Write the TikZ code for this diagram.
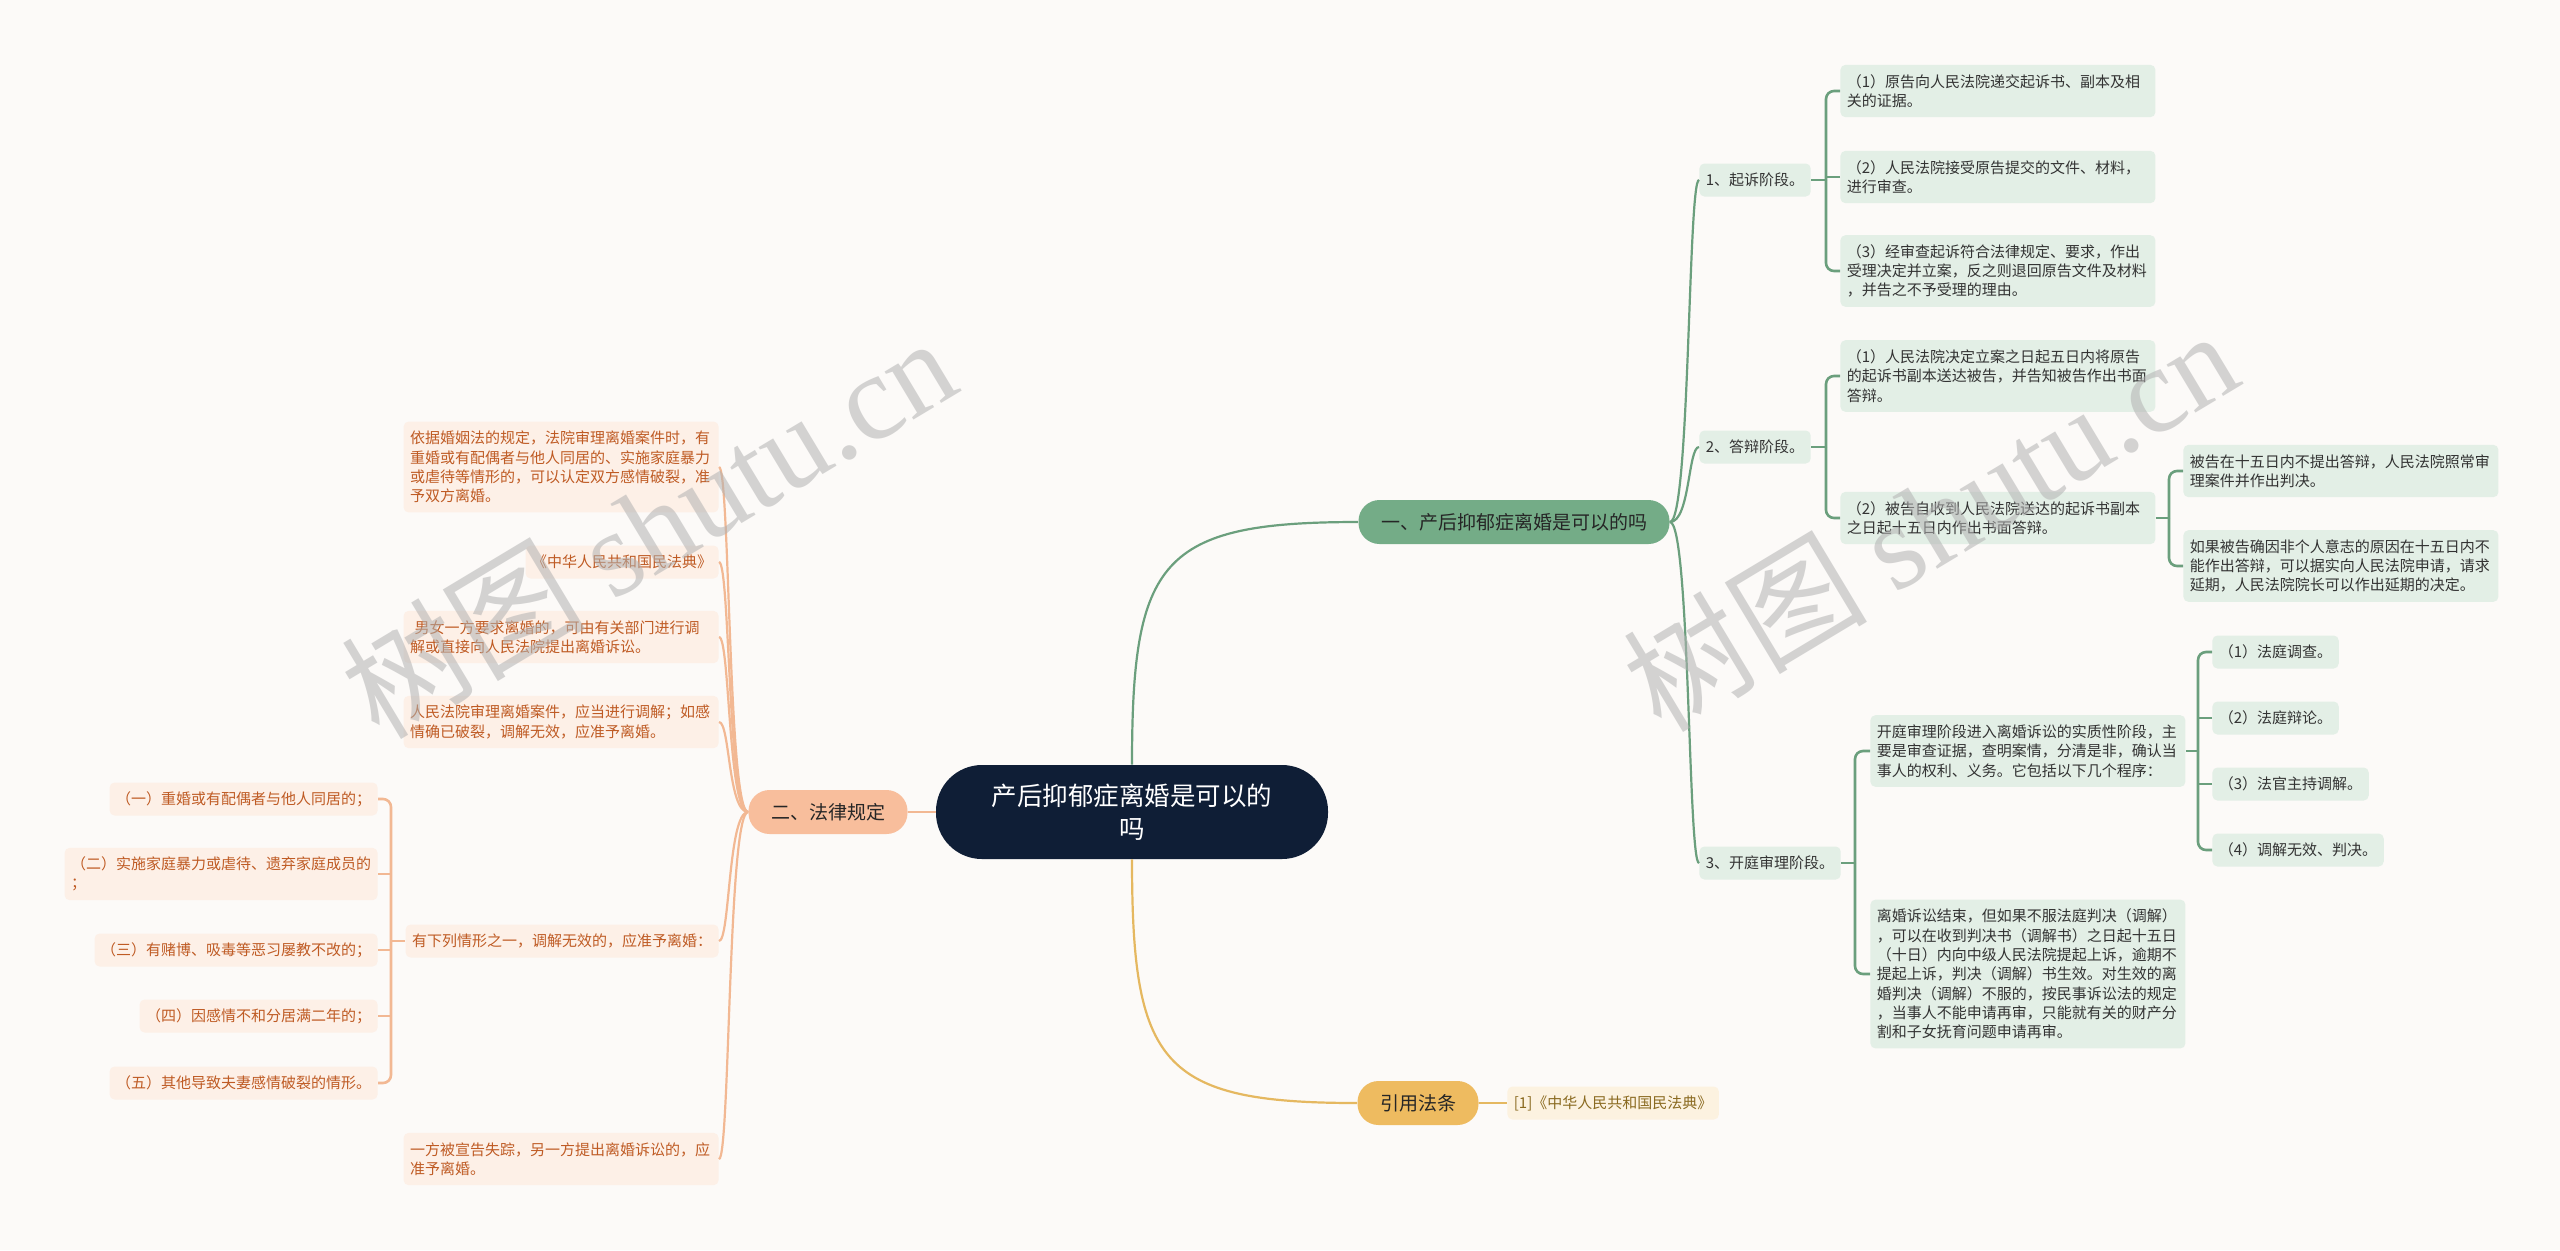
\documentclass[tikz,border=0pt]{standalone}
\usepackage{fontspec}
\newfontfamily\cjk{Noto Sans CJK SC}
\newfontfamily\wmlatin{Liberation Serif}
\definecolor{bgc}{HTML}{FCFAF8}
\definecolor{navy}{HTML}{0F1E36}
\definecolor{gbranch}{HTML}{74AC87}
\definecolor{gconn}{HTML}{6B9F7D}
\definecolor{gleafc}{HTML}{E3EFE6}
\definecolor{gtext}{HTML}{333333}
\definecolor{pbranch}{HTML}{F8BE9C}
\definecolor{pconn}{HTML}{F2B893}
\definecolor{pleafc}{HTML}{FDF0E7}
\definecolor{ptext}{HTML}{BF5B24}
\definecolor{ybranch}{HTML}{EEBB60}
\definecolor{yconn}{HTML}{E5B860}
\definecolor{yleafc}{HTML}{FCF2E0}
\definecolor{ytext}{HTML}{8A6A20}
\begin{document}
\begin{tikzpicture}[x=0.5pt,y=-0.5pt]
\tikzset{
  base/.style={rectangle, rounded corners=2.5pt, inner xsep=3.25pt, inner ysep=1pt, align=left,
    font=\cjk\fontsize{7.5pt}{9.65pt}\selectfont},
  gleaf/.style={base, fill=gleafc, text=gtext},
  pleaf/.style={base, fill=pleafc, text=ptext},
  yleaf/.style={base, fill=yleafc, text=ytext},
  ln1/.style={minimum height=16.5pt},
  ln2/.style={minimum height=26.15pt, text width=151pt},
  ln3/.style={minimum height=35.8pt, text width=151pt},
  ln4/.style={minimum height=45.45pt, text width=151pt},
  ln7/.style={minimum height=74.4pt, text width=151pt},
  branch/.style={rectangle, rounded corners=10.5pt, minimum height=22pt, inner xsep=11.25pt,
    inner ysep=1pt, text=black!85, font=\cjk\fontsize{9.5pt}{11pt}\selectfont},
  center/.style={rectangle, rounded corners=23pt, minimum width=196pt, minimum height=47pt,
    fill=navy, text=white, align=center, font=\cjk\fontsize{12.75pt}{16.5pt}\selectfont},
  gc/.style={draw=gconn, line width=1.1pt},
  pc/.style={draw=pconn, line width=1.1pt},
  yc/.style={draw=yconn, line width=1.1pt},
  gb/.style={draw=gconn, line width=1.3pt, rounded corners=4pt},
  pb/.style={draw=pconn, line width=1.3pt, rounded corners=4pt},
  wm/.style={text=black!30, text opacity=0.55, font=\cjk\fontsize{61pt}{61pt}\selectfont}
}
\fill[bgc] (0,0) rectangle (2560,1250);
\useasboundingbox (0,0) rectangle (2560,1250);

% central and main branches
\node[center] (c) at (1132,812) {产后抑郁症离婚是可以的\\吗};
\node[branch, fill=gbranch] (b1) at (1514,522) {一、产后抑郁症离婚是可以的吗};
\node[branch, fill=pbranch] (b2) at (828,812) {二、法律规定};
\node[branch, fill=ybranch] (b3) at (1418,1103) {引用法条};
\node[yleaf, ln1, anchor=west] (r1) at (1507,1103) {[1]《中华人民共和国民法典》};

% right side
\node[gleaf, ln1, anchor=west] (n1) at (1699,180) {1、起诉阶段。};
\node[gleaf, ln2, anchor=west] (n1a) at (1840,91) {（1）原告向人民法院递交起诉书、副本及相\\关的证据。};
\node[gleaf, ln2, anchor=west] (n1b) at (1840,177) {（2）人民法院接受原告提交的文件、材料，\\进行审查。};
\node[gleaf, ln3, anchor=west] (n1c) at (1840,271) {（3）经审查起诉符合法律规定、要求，作出\\受理决定并立案，反之则退回原告文件及材料\\，并告之不予受理的理由。};
\node[gleaf, ln1, anchor=west] (n2) at (1699,447) {2、答辩阶段。};
\node[gleaf, ln3, anchor=west] (n2a) at (1840,376) {（1）人民法院决定立案之日起五日内将原告\\的起诉书副本送达被告，并告知被告作出书面\\答辩。};
\node[gleaf, ln2, anchor=west] (n2b) at (1840,518) {（2）被告自收到人民法院送达的起诉书副本\\之日起十五日内作出书面答辩。};
\node[gleaf, ln2, anchor=west] (n2b1) at (2183,471) {被告在十五日内不提出答辩，人民法院照常审\\理案件并作出判决。};
\node[gleaf, ln3, anchor=west] (n2b2) at (2183,566) {如果被告确因非个人意志的原因在十五日内不\\能作出答辩，可以据实向人民法院申请，请求\\延期，人民法院院长可以作出延期的决定。};
\node[gleaf, ln1, anchor=west] (n3) at (1699,863) {3、开庭审理阶段。};
\node[gleaf, ln3, anchor=west] (n3a) at (1870,751) {开庭审理阶段进入离婚诉讼的实质性阶段，主\\要是审查证据，查明案情，分清是非，确认当\\事人的权利、义务。它包括以下几个程序：};
\node[gleaf, ln7, anchor=west] (n3b) at (1870,974) {离婚诉讼结束，但如果不服法庭判决（调解）\\，可以在收到判决书（调解书）之日起十五日\\（十日）内向中级人民法院提起上诉，逾期不\\提起上诉，判决（调解）书生效。对生效的离\\婚判决（调解）不服的，按民事诉讼法的规定\\，当事人不能申请再审，只能就有关的财产分\\割和子女抚育问题申请再审。};
\node[gleaf, ln1, anchor=west] (n3a1) at (2212,652) {（1）法庭调查。};
\node[gleaf, ln1, anchor=west] (n3a2) at (2212,718) {（2）法庭辩论。};
\node[gleaf, ln1, anchor=west] (n3a3) at (2212,784) {（3）法官主持调解。};
\node[gleaf, ln1, anchor=west] (n3a4) at (2212,850) {（4）调解无效、判决。};

% left side
\node[pleaf, ln4, anchor=east] (p1) at (719,467) {依据婚姻法的规定，法院审理离婚案件时，有\\重婚或有配偶者与他人同居的、实施家庭暴力\\或虐待等情形的，可以认定双方感情破裂，准\\予双方离婚。};
\node[pleaf, ln1, anchor=east] (p2) at (719,562) {《中华人民共和国民法典》};
\node[pleaf, ln2, anchor=east] (p3) at (719,637) {\hspace*{0.3em}男女一方要求离婚的，可由有关部门进行调\\解或直接向人民法院提出离婚诉讼。};
\node[pleaf, ln2, anchor=east] (p4) at (719,722) {人民法院审理离婚案件，应当进行调解；如感\\情确已破裂，调解无效，应准予离婚。};
\node[pleaf, ln1, anchor=east] (p5) at (719,941) {有下列情形之一，调解无效的，应准予离婚：};
\node[pleaf, ln2, anchor=east] (p6) at (719,1159) {一方被宣告失踪，另一方提出离婚诉讼的，应\\准予离婚。};
\node[pleaf, ln1, anchor=east] (q1) at (378,799) {（一）重婚或有配偶者与他人同居的；};
\node[pleaf, minimum height=26.15pt, anchor=east] (q2) at (378,874) {（二）实施家庭暴力或虐待、遗弃家庭成员的\\；};
\node[pleaf, ln1, anchor=east] (q3) at (378,950) {（三）有赌博、吸毒等恶习屡教不改的；};
\node[pleaf, ln1, anchor=east] (q4) at (378,1016) {（四）因感情不和分居满二年的；};
\node[pleaf, ln1, anchor=east] (q5) at (378,1083) {（五）其他导致夫妻感情破裂的情形。};

% main connectors
\draw[gc] (c.north) .. controls (1132,560) and (1160,522) .. (b1.west);
\draw[yc] (c.south) .. controls (1132,1064) and (1160,1103) .. (b3.west);
\draw[pc] (c.west) -- (b2.east);
\draw[yc] (b3.east) -- (r1.west);

% green first level
\draw[gc] (b1.east) .. controls (1690,522) and (1688,180) .. (n1.west);
\draw[gc] (b1.east) .. controls (1690,522) and (1688,447) .. (n2.west);
\draw[gc] (b1.east) .. controls (1690,522) and (1688,863) .. (n3.west);

% peach first level
\draw[pc] (b2.west) .. controls (728,812) and (730,467) .. (p1.east);
\draw[pc] (b2.west) .. controls (728,812) and (730,562) .. (p2.east);
\draw[pc] (b2.west) .. controls (728,812) and (730,637) .. (p3.east);
\draw[pc] (b2.west) .. controls (728,812) and (730,722) .. (p4.east);
\draw[pc] (b2.west) .. controls (728,812) and (730,941) .. (p5.east);
\draw[pc] (b2.west) .. controls (728,812) and (730,1159) .. (p6.east);

% brackets
\coordinate (j1) at (1826,180);
\draw[gb] (n1.east) -- (j1);
\draw[gb] (n1a.west) -| (j1);
\draw[gb] (n1c.west) -| (j1);
\draw[gb] (n1b.west) -- (n1b.west -| j1);

\coordinate (j2) at (1826,447);
\draw[gb] (n2.east) -- (j2);
\draw[gb] (n2a.west) -| (j2);
\draw[gb] (n2b.west) -| (j2);

\coordinate (j2b) at (2169,518);
\draw[gb] (n2b.east) -- (j2b);
\draw[gb] (n2b1.west) -| (j2b);
\draw[gb] (n2b2.west) -| (j2b);

\coordinate (j3) at (1855,863);
\draw[gb] (n3.east) -- (j3);
\draw[gb] (n3a.west) -| (j3);
\draw[gb] (n3b.west) -| (j3);

\coordinate (j3a) at (2198,751);
\draw[gb] (n3a.east) -- (j3a);
\draw[gb] (n3a1.west) -| (j3a);
\draw[gb] (n3a4.west) -| (j3a);
\draw[gb] (n3a2.west) -- (n3a2.west -| j3a);
\draw[gb] (n3a3.west) -- (n3a3.west -| j3a);

\coordinate (j5) at (391,941);
\draw[pb] (p5.west) -- (j5);
\draw[pb] (q1.east) -| (j5);
\draw[pb] (q5.east) -| (j5);
\draw[pb] (q2.east) -- (q2.east -| j5);
\draw[pb] (q3.east) -- (q3.east -| j5);
\draw[pb] (q4.east) -- (q4.east -| j5);

% watermarks
\node[wm, rotate=31] (w1) at (648,526) {树图 {\wmlatin shutu.cn}};
\node[wm, rotate=31] (w2) at (1930,519) {树图 {\wmlatin shutu.cn}};
\end{tikzpicture}
\end{document}
